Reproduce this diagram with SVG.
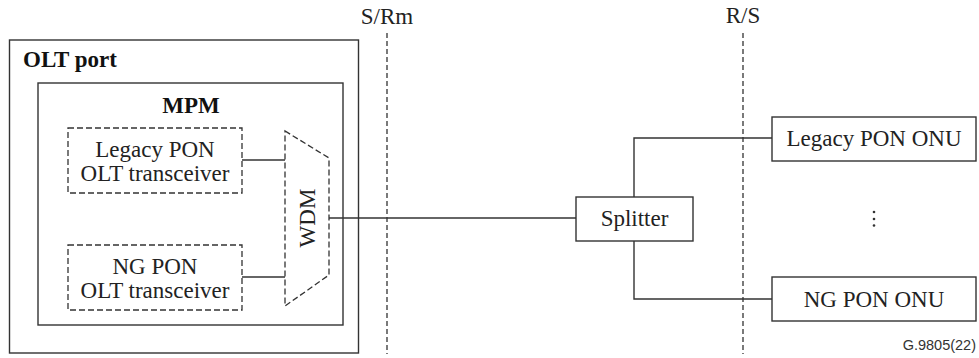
<svg xmlns="http://www.w3.org/2000/svg" width="979" height="358" viewBox="0 0 979 358">
  <style>
    .box { fill: #fff; stroke: #333; stroke-width: 1.4; }
    .dbox { fill: none; stroke: #333; stroke-width: 1.3; stroke-dasharray: 6 3; }
    .ref { fill: none; stroke: #333; stroke-width: 1.3; stroke-dasharray: 5 3; }
    .wire { fill: none; stroke: #333; stroke-width: 1.4; }
    .t { font-family: "Liberation Serif", "Times New Roman", serif; font-size: 23px; fill: #222; text-anchor: middle; }
    .tb { font-family: "Liberation Serif", "Times New Roman", serif; font-size: 23px; font-weight: bold; fill: #111; }
  </style>

  <rect width="979" height="358" fill="#fff"/>

  <!-- reference points -->
  <g id="ref-points">
    <line class="ref" x1="387" y1="33" x2="387" y2="354"/>
    <text class="t" x="387" y="24">S/Rm</text>
    <line class="ref" x1="743" y1="33" x2="743" y2="354"/>
    <text class="t" x="743" y="23">R/S</text>
  </g>

  <g id="olt-port">
    <rect class="box" x="9.5" y="40" width="349" height="313"/>
    <text class="tb" x="23" y="67">OLT port</text>
  </g>

  <g id="mpm">
    <rect class="box" x="38" y="83" width="305" height="242"/>
    <text class="tb" x="191" y="113" text-anchor="middle">MPM</text>
  </g>

  <g id="legacy-olt">
    <rect class="dbox" x="68" y="128" width="174" height="65"/>
    <text class="t" x="155" y="157">Legacy PON</text>
    <text class="t" x="155" y="181">OLT transceiver</text>
  </g>

  <g id="ng-olt">
    <rect class="dbox" x="68" y="245" width="174" height="65"/>
    <text class="t" x="155" y="274">NG PON</text>
    <text class="t" x="155" y="298">OLT transceiver</text>
  </g>

  <g id="wdm">
    <polygon class="dbox" points="285,131 329,158 329,275 285,306"/>
    <text class="t" transform="translate(315,218) rotate(-90)" x="0" y="0">WDM</text>
  </g>

  <g id="connectors">
    <line class="wire" x1="242" y1="160" x2="285" y2="160"/>
    <line class="wire" x1="242" y1="277" x2="285" y2="277"/>
    <line class="wire" x1="329" y1="218" x2="576" y2="218"/>
    <polyline class="wire" points="634,197 634,138 772,138"/>
    <polyline class="wire" points="634,241 634,299 772,299"/>
  </g>

  <g id="splitter">
    <rect class="box" x="576" y="197" width="117" height="44"/>
    <text class="t" x="634.5" y="226">Splitter</text>
  </g>

  <g id="legacy-onu">
    <rect class="box" x="772" y="117" width="204" height="44"/>
    <text class="t" x="874" y="146">Legacy PON ONU</text>
  </g>

  <g id="ellipsis" fill="#333">
    <circle cx="874" cy="212" r="1.3"/>
    <circle cx="874" cy="219" r="1.3"/>
    <circle cx="874" cy="225.5" r="1.3"/>
  </g>

  <g id="ng-onu">
    <rect class="box" x="772" y="277" width="204" height="44"/>
    <text class="t" x="874" y="307">NG PON ONU</text>
  </g>

  <text x="976" y="350" font-family="Liberation Sans, Arial, sans-serif" font-size="14.5" fill="#333" text-anchor="end">G.9805(22)</text>
</svg>
